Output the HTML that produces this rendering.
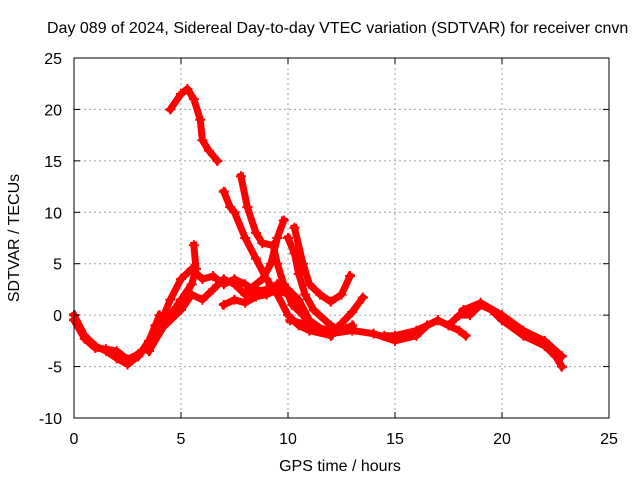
<!DOCTYPE html>
<html><head><meta charset="utf-8"><style>
body{margin:0;background:#fff}
svg text{font-family:"Liberation Sans",sans-serif;font-size:16px;fill:#000}
</style></head><body>
<svg width="640" height="480" xmlns="http://www.w3.org/2000/svg">
<rect width="640" height="480" fill="#fff"/>
<g id="grid"></g><g id="series"></g><g id="axes"></g>
<text x="47" y="33" text-anchor="start">Day 089 of 2024, Sidereal Day-to-day VTEC variation (SDTVAR) for receiver cnvn</text>
<text x="340" y="471" text-anchor="middle">GPS time / hours</text>
<text transform="translate(19,238) rotate(-90)" text-anchor="middle">SDTVAR / TECUs</text>
</svg>
<script>
const xTicks=[0,5,10,15,20,25];
const yTicks=[-10,-5,0,5,10,15,20,25];
const track1=[[0,0],[0.5,-2],[1,-3],[1.5,-3.5],[2,-4.2],[2.5,-4.8],[3,-4],[3.5,-2.5],[3.8,-1],[4,0]];
const track2=[[0,-0.5],[0.5,-2.3],[1,-3.2],[1.5,-3.3],[2,-3.5],[2.5,-4.3],[3,-3.8],[3.5,-3]];
const track3=[[2.5,-4.5],[3.5,-3],[4,-1],[4.5,1.5],[5,3.5],[5.5,4.5],[6,3.5],[6.5,3.8],[7,3],[7.5,3.5],[8,3],[8.5,2.3],[9,2.5],[9.5,3],[10,2.5],[10.5,1.5],[11,-0.5],[12,-2]];
const track4=[[3.5,-3.5],[4.5,0],[5,1.5],[5.5,3],[5.7,4.5],[5.6,6.8]];
const track5=[[3,-4],[4,-1.5],[5,0.5],[5.5,2],[6,1.5],[6.5,2.5],[7,3.5],[7.5,3],[8,2],[8.5,2.5],[9,2.2],[9.5,3]];
const track5b=[[7,1],[7.5,1.5],[8,1.2],[8.5,1.8],[9,2],[9.5,2.5],[10,2],[10.5,1]];
const track6=[[4.5,20],[5,21.5],[5.3,22],[5.6,21],[5.9,19],[6,17],[6.3,16],[6.7,15]];
const track7=[[7,12],[7.3,10.5],[7.5,10],[8,7.5],[8.5,5.5],[9,3.5],[9.5,2],[10,0],[10.5,-1],[11,-1.5],[12,-2]];
const track8=[[7.8,13.5],[8.1,10.5],[8.5,8],[8.8,7],[9.3,6.8],[9.5,5],[9.8,3],[10.2,1],[10.7,0],[11,-1],[12,-1.5]];
const track9=[[8.2,2.5],[8.8,3.5],[9.2,5],[9.5,7.5],[9.8,9.2]];
const track10=[[10,7.5],[10.3,6],[10.5,4],[10.8,2],[11.2,0.5],[12,-1],[12.5,-1.5],[13,-1]];
const track11=[[10.3,8.5],[10.7,5],[11,3],[11.5,2],[12,1.3],[12.5,2],[12.9,3.8]];
const track12=[[12,-1.8],[12.5,-0.8],[13,0.3],[13.5,1.7]];
const track13=[[10.1,-0.5],[11,-1],[12,-1.8],[13,-1.5],[14,-1.8],[15,-2.5],[16,-2],[16.5,-1],[17,-0.5],[17.5,-1],[18,0],[18.5,0],[19,1],[19.5,0.5],[20,-0.5],[21,-2],[22,-3],[22.5,-4],[22.8,-5]];
const track14=[[14.5,-2],[15,-2],[16,-1.5],[17,-0.5],[17.5,-1],[18,-1.5],[18.3,-2]];
const track15=[[18.2,0.5],[19,1.2],[20,0],[21,-1.5],[22,-2.5],[22.8,-4]];
const tracks=[track1,track2,track3,track4,track5,track5b,track6,track7,track8,track9,track10,track11,track12,track13,track14,track15];
const NS="http://www.w3.org/2000/svg";
const L=74,R=609,T=58,B=418;
const sx=v=>L+(v-0)/(25-0)*(R-L);
const sy=v=>B-(v+10)/(35)*(B-T);
function mk(tag,attrs,parent){const e=document.createElementNS(NS,tag);for(const k in attrs)e.setAttribute(k,attrs[k]);parent.appendChild(e);return e;}
const grid=document.getElementById('grid'),axes=document.getElementById('axes'),series=document.getElementById('series');
xTicks.forEach(t=>{
 if(t>0&&t<25){const g=mk('line',{x1:sx(t),x2:sx(t),y1:T,y2:B,stroke:'#a0a0a0','stroke-dasharray':'2,3'},grid);
 
 }
 const tk=mk('line',{x1:sx(t),x2:sx(t),y1:B,y2:B-6,stroke:'#000'},axes);
 
 
 mk('line',{x1:sx(t),x2:sx(t),y1:T,y2:T+6,stroke:'#000'},axes);
 const tx=mk('text',{x:sx(t),y:B+26,'text-anchor':'middle'},axes);tx.textContent=t;
 
 
});
yTicks.forEach(t=>{
 if(t>-10&&t<25){const g=mk('line',{x1:L,x2:R,y1:sy(t),y2:sy(t),stroke:'#a0a0a0','stroke-dasharray':'2,3'},grid);
 
 }
 const tk=mk('line',{x1:L,x2:L+6,y1:sy(t),y2:sy(t),stroke:'#000'},axes);
 
 
 mk('line',{x1:R,x2:R-6,y1:sy(t),y2:sy(t),stroke:'#000'},axes);
 const tx=mk('text',{x:L-12,y:sy(t)+6,'text-anchor':'end'},axes);tx.textContent=t;
 
 
});
const fr=mk('rect',{x:L,y:T,width:R-L,height:B-T,fill:'none',stroke:'#000'},axes);


tracks.forEach(tr=>{
 const p=mk('polyline',{points:tr.map(d=>sx(d[0])+','+sy(d[1])).join(' '),fill:'none',stroke:'#ff0000','stroke-width':7,'stroke-linejoin':'round','stroke-linecap':'square'},series);
 
 
 tr.forEach(d=>{
  const m=mk('path',{d:`M${sx(d[0])-5},${sy(d[1])}h10M${sx(d[0])},${sy(d[1])-5}v10`,stroke:'#ff0000','stroke-width':2},series);
  
  
 });
});
</script>
</body></html>
